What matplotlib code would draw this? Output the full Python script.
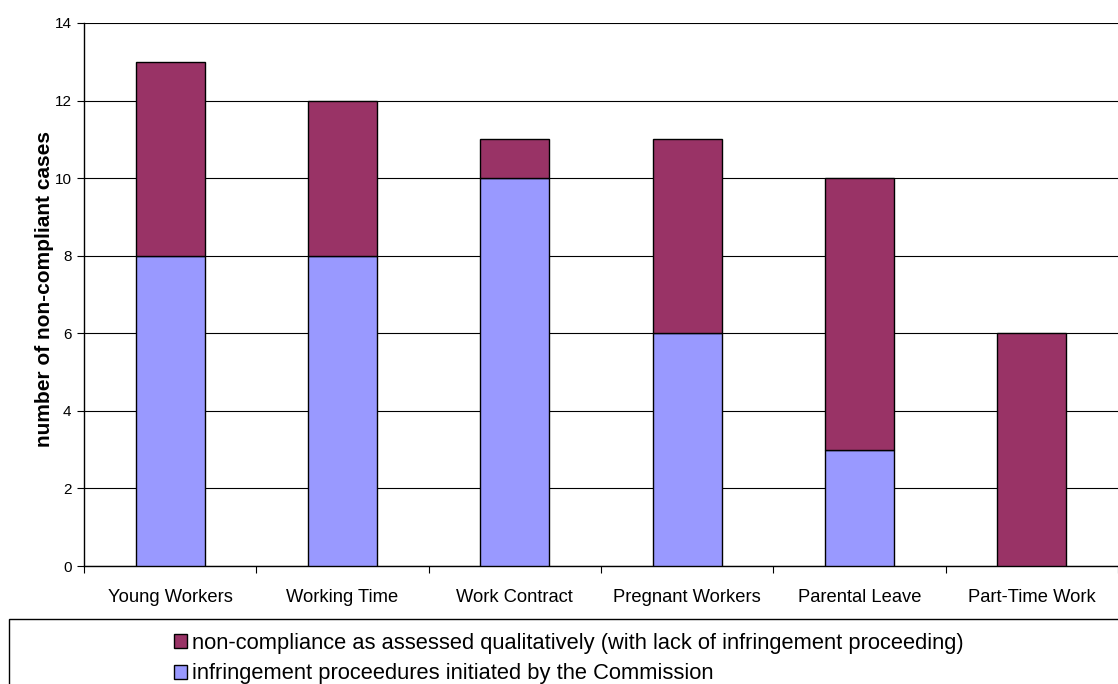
import matplotlib
matplotlib.use("Agg")
import matplotlib.pyplot as plt
from matplotlib.patches import Rectangle, Patch
import numpy as np

categories = ["Young Workers", "Working Time", "Work Contract",
              "Pregnant Workers", "Parental Leave", "Part-Time Work"]
infringement = [8, 8, 10, 6, 3, 0]
qualitative = [5, 4, 1, 5, 7, 6]
yticks = [0, 2, 4, 6, 8, 10, 12, 14]
label_qual = "non-compliance as assessed qualitatively (with lack of infringement proceeding)"
label_inf = "infringement proceedures initiated by the Commission"
ylabel = "number of non-compliant cases"

c_purple = "#993366"
c_blue = "#9999FF"

plt.rcParams['font.family'] = ['Liberation Sans', 'DejaVu Sans']

W, H = 1118, 684
fig = plt.figure(figsize=(W / 100, H / 100), dpi=100)
ax = fig.add_axes([84 / W, 1 - 566 / H, 1 - 84 / W, (566 - 23) / H])

x = np.arange(len(categories))
ax.bar(x, infringement, width=0.4, color=c_blue, edgecolor="black", linewidth=1, zorder=3)
ax.bar(x, qualitative, width=0.4, bottom=infringement, color=c_purple,
       edgecolor="black", linewidth=1, zorder=3)

ax.set_xlim(-0.5, len(categories) - 0.5)
ax.set_ylim(0, 14)
ax.set_yticks(yticks)
ax.set_yticklabels([str(v) for v in yticks], fontsize=11)
ax.yaxis.grid(True, color="black", linewidth=0.8, zorder=0)
ax.set_axisbelow(True)

ax.set_xticks(x)
ax.set_xticklabels(categories, fontsize=13.2)
ax.tick_params(axis='x', which='major', length=0, pad=16.5)
ax.set_xticks(np.arange(len(categories) + 1) - 0.5, minor=True)
ax.tick_params(axis='x', which='minor', length=5, direction='out', width=0.8)
ax.tick_params(axis='y', length=5, direction='out', width=0.8, pad=4)

for s in ["top", "right"]:
    ax.spines[s].set_visible(False)
for s in ["left", "bottom"]:
    ax.spines[s].set_linewidth(1)
    ax.spines[s].set_color("black")

ax.set_ylabel(ylabel, fontsize=15, fontweight="bold")
ax.yaxis.set_label_coords(-0.029, 0.51)

# legend frame extending beyond the figure edges
frame = Rectangle((9 / W, -0.2), 1.2, 0.2 + 1 - 619 / H, transform=fig.transFigure,
                  fill=False, edgecolor="black", linewidth=1)
fig.patches.append(frame)

handles = [Patch(facecolor=c_purple, edgecolor="black", linewidth=1),
           Patch(facecolor=c_blue, edgecolor="black", linewidth=1)]
fig.legend(handles, [label_qual, label_inf], loc="upper left",
           bbox_to_anchor=(174 / W, 1 - 633 / H), frameon=False, fontsize=15.75,
           handlelength=0.6, handleheight=0.6, handletextpad=0.22,
           borderpad=0, borderaxespad=0, labelspacing=0.43)

fig.savefig("out.png", dpi=100)
